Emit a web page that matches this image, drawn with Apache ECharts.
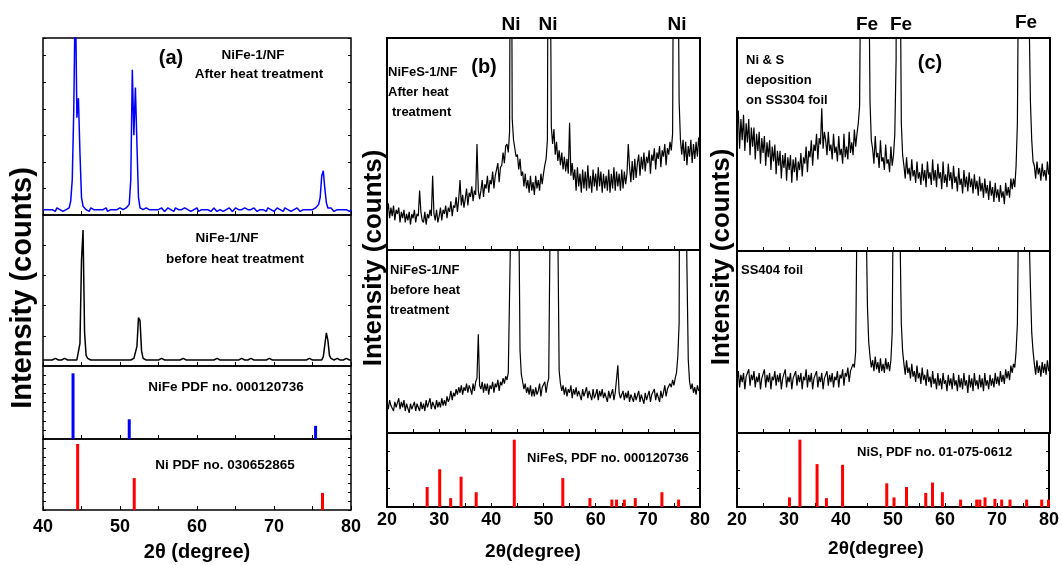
<!DOCTYPE html>
<html><head><meta charset="utf-8">
<script src="https://cdn.jsdelivr.net/npm/echarts@6/dist/echarts.min.js"></script>
<style>html,body{margin:0;padding:0;background:#fff}#c{width:1062px;height:565px}</style>
</head><body><div id="c"></div>
<script>
// ---------- Panel (a): 2theta 40..80, step 0.2 ----------
const A_START = 40, A_STEP = 0.2;
const aAfter = [
3,4,3,2,3,4,3,3,2,4,3,3,4,2,3,3,4,
4,8,20,60,130,55,66,35,10,5,
4,3,3,2,4,3,3,2,3,4,3,2,3,3,4,2,3,3,4,3,2,3,3,4,3,3,2,4,5,
6,20,82,45,72,40,10,4,
3,3,2,4,3,3,2,3,4,3,
2,3,3,4,3,2,3,4,3,3,
3,2,4,3,3,2,3,3,4,3,
3,4,2,3,3,3,4,2,3,3,
2,3,4,3,3,2,3,4,3,2,
3,3,4,2,3,3,3,4,3,2,
3,4,3,3,2,3,3,4,3,3,
2,3,3,4,3,2,3,3,4,3,
3,2,4,3,3,3,2,3,4,3,
3,3,2,4,3,3,4,2,3,3,
3,4,3,2,3,3,4,3,2,3,
4,3,3,4,5,
6,10,22,25,15,7,4,
3,4,3,2,3,3,4,3,2,3,4,3,3,2,3];
const aBefore = [
4,4,4,5,4,4,4,4,5,4,4,4,4,4,5,4,4,4,4,4,4,5,4,
5,15,70,90,22,7,5,
4,4,4,4,5,4,4,4,4,4,4,4,5,4,4,4,4,4,4,4,5,4,4,4,4,4,4,4,4,5,
6,13,32,30,10,5,
4,4,4,4,5,4,4,4,4,4,
4,5,4,4,4,4,4,4,5,4,
4,4,4,4,4,5,4,4,4,4,
4,4,5,4,4,4,4,4,4,4,
5,4,4,4,4,4,4,5,4,4,
4,4,4,4,5,4,4,4,4,4,
4,4,4,5,4,4,4,4,4,5,
4,4,4,4,4,4,5,4,4,4,
4,5,4,4,4,4,4,4,4,4,
4,4,4,4,5,4,4,4,4,4,
5,4,4,4,4,4,4,5,4,4,
4,4,4,4,5,4,
6,14,22,17,7,5,
4,4,4,5,4,4,4,4,4,5,4,4,4];
const aNiFePos = [43.9, 51.2, 75.4];
const aNiFeH   = [90, 27, 18];
const aNiPos   = [44.5, 51.85, 76.3];
const aNiH     = [93, 45, 24];

// ---------- Panels (b),(c): 2theta 20..80, step 0.25 ----------
const BC_START = 20, BC_STEP = 0.25;
const bAfter = [
18,22,15,20, 16,21,14,19, 17,20,13,18, 15,19,13,17, 14,18,12,17,
15,19,13,17, 16,28,18,14, 13,18,12,17, 15,19,16,35, 17,14,19,13,
16,20,14,19, 17,21,15,20, 18,23,16,21, 20,25,18,24, 33,21,26,20,
24,29,21,27, 25,30,23,28, 26,50,28,24, 28,33,25,31, 29,35,27,33,
31,37,29,35, 35,41,32,39, 40,46,41,49, 50,46,56,250, 62,52,48,44,
45,38,43,35, 37,30,36,29, 33,27,35,28, 32,26,35,29, 33,28,36,31,
36,40,43,52, 250,160,58,50, 57,45,51,42, 47,40,46,38, 44,37,43,36,
60,35,41,33, 38,28,39,30, 36,27,38,29, 37,28,40,29, 35,27,38,30,
36,28,39,30, 37,27,36,29, 35,28,38,27, 36,29,39,28, 37,30,36,28,
38,29,37,31, 36,50,39,32, 42,33,43,34, 41,45,35,44, 38,46,37,44,
41,47,36,45, 42,48,38,46, 43,49,39,47, 44,50,40,48, 45,51,47,55,
200,300,250,160, 70,52,45,52, 42,51,40,49, 44,52,41,50, 43,51,44,53,
47];
const bBefore = [
17,13,18,15, 16,12,17,14, 15,19,13,17, 14,18,12,16, 15,11,16,13,
14,17,12,16, 15,12,17,13, 16,12,18,14, 15,19,13,17, 16,13,18,14,
17,14,19,15, 18,15,20,17, 19,23,18,22, 20,24,21,25, 22,26,21,25,
23,27,22,26, 24,21,27,23, 28,30,54,26, 24,28,22,27, 23,27,21,26,
24,28,22,27, 25,29,23,28, 26,30,27,31, 29,33,32,120, 400,800,800,500,
300,130,45,32, 28,24,27,22, 25,21,26,20, 24,20,25,21, 23,27,20,25,
24,28,22,27, 30,110,500,700, 500,300,180,110, 34,27,23,26, 21,25,20,24,
22,26,19,24, 21,25,20,23, 22,18,24,20, 21,25,19,23, 22,18,24,19,
21,24,18,23, 20,24,19,22, 21,17,23,19, 20,24,18,22, 21,37,22,19,
20,23,18,22, 19,23,17,21, 20,17,22,18, 19,23,17,21, 20,16,22,18,
19,23,17,21, 20,24,18,22, 21,17,23,19, 22,26,20,24, 23,27,25,29,
26,30,33,42, 60,300,800,600, 300,150,90,40, 28,24,27,22, 25,21,26,23,
24];
const bPdfPos = [27.7, 30.1, 32.2, 34.2, 37.1, 44.4, 53.7, 58.9, 63.1, 64.0, 65.5, 67.6, 72.7, 75.9];
const bPdfH   = [27, 51, 12, 41, 20, 91, 39, 12, 10, 10, 10, 12, 20, 10];

const cNiS = [
57,66,48,62, 52,64,47,60, 51,62,45,58, 49,58,43,55, 47,56,41,53,
46,54,40,51, 44,52,38,49, 42,50,36,47, 40,47,34,45, 39,46,33,44,
38,45,32,43, 37,44,33,42, 38,46,35,44, 41,49,37,47, 44,52,40,50,
47,55,43,53, 50,67,48,56, 52,45,56,47, 50,43,55,46, 49,42,54,45,
48,41,55,44, 49,43,56,46, 51,45,57,49, 55,60,68,150, 500,900,900,700,
400,140,70,52, 48,41,54,44, 46,39,52,42, 44,38,50,41, 43,37,49,40,
45,55,90,600, 800,150,60,45, 40,34,44,36, 39,33,43,35, 38,32,42,34,
37,31,41,33, 38,30,42,34, 37,31,43,33, 38,30,41,34, 37,29,42,32,
36,30,41,33, 37,29,40,32, 35,28,39,31, 34,27,38,30, 35,28,37,30,
34,27,36,29, 33,26,35,28, 32,25,34,27, 31,24,33,26, 30,23,32,25,
29,23,31,25, 28,22,32,26, 30,25,34,29, 34,30,40,60, 150,500,900,900,
600,400,250,150, 110,70,52,42, 40,34,42,36, 39,33,41,35, 38,33,42,36,
37];
const cFoil = [
29,34,25,32, 28,33,24,31, 30,35,26,32, 29,34,25,31, 28,33,24,30,
29,35,25,32, 28,33,24,31, 29,34,26,32, 28,33,24,30, 29,35,25,31,
28,33,24,30, 29,34,26,32, 28,33,24,31, 29,35,25,32, 28,33,24,30,
29,34,25,31, 28,33,24,30, 29,34,26,32, 28,33,25,31, 29,34,25,32,
30,35,26,33, 31,36,28,34, 33,38,36,45, 120,500,900,900, 600,350,200,120,
70,50,42,36, 40,34,42,35, 39,33,41,34, 38,33,41,35, 39,34,40,55,
150,700,900,500, 200,110,60,45, 38,32,40,33, 36,30,38,31, 34,28,37,30,
33,27,36,29, 32,26,35,28, 31,25,34,27, 30,24,33,26, 30,24,33,27,
29,23,32,26, 30,24,33,26, 29,23,32,25, 30,24,33,26, 29,22,32,25,
30,23,33,26, 29,24,32,25, 30,23,33,26, 29,24,32,26, 30,25,33,27,
31,26,34,28, 32,27,35,30, 34,29,37,33, 38,36,45,60, 130,500,900,900,
700,400,250,150, 110,80,55,45, 38,32,40,33, 37,31,39,33, 38,32,40,34,
36];
const cPdfPos = [30.1, 32.1, 35.4, 37.2, 40.3, 48.8, 50.2, 52.6, 56.3, 57.6, 59.5, 63.0, 66.1, 66.7, 67.7, 69.6, 70.9, 72.5, 75.7, 78.6, 79.9];
const cPdfH   = [13, 91, 58, 12, 57, 32, 13, 27, 19, 33, 20, 10, 10, 10, 13, 11, 10, 10, 10, 10, 10];

const checks = {aAfter:[aAfter,201], aBefore:[aBefore,201], bAfter:[bAfter,241], bBefore:[bBefore,241], cNiS:[cNiS,241], cFoil:[cFoil,241]};
for (const k in checks) if (checks[k][0].length !== checks[k][1]) throw new Error(k + ' length ' + checks[k][0].length);

// ---------- layout ----------
const grids = [
  {left:43,  top:38,  width:308, height:177},
  {left:43,  top:215, width:308, height:151},
  {left:43,  top:366, width:308, height:73},
  {left:43,  top:439, width:308, height:71},
  {left:387, top:38,  width:313, height:212},
  {left:387, top:250, width:313, height:183},
  {left:387, top:433, width:313, height:74},
  {left:737, top:38,  width:313, height:213},
  {left:737, top:251, width:313, height:182},
  {left:737, top:433, width:313, height:74}
];
const xMin = [40,40,40,40,20,20,20,20,20,20];
const bottomGrid = [false,false,false,true,false,false,true,false,false,true];
const yInt = [15,20,12.5,12.5,20,20,25,20,20,25];
const yTicks = [true,true,true,true,false,false,true,false,false,true];
const bw = i => (i < 4 ? 1.5 : 2);

const FONT = '"Liberation Sans", Arial, sans-serif';
const option = {
  animation:false,
  backgroundColor:'#fff',
  grid: grids.map((g,i)=>Object.assign({show:true, borderColor:'#000', borderWidth:bw(i), backgroundColor:'transparent', containLabel:false}, g)),
  xAxis: grids.map((g,i)=>({
    gridIndex:i, type:'value', min:xMin[i], max:80, interval:5,
    axisLine:{show:false},
    axisTick:{show:true, inside:true, length:4, lineStyle:{color:'#000', width:1}},
    axisLabel:{show:bottomGrid[i], margin:i<4?8:4, color:'#000', fontSize:18, fontWeight:'bold', fontFamily:FONT,
      formatter:v=> (v % 10 === 0 ? String(v) : '')},
    splitLine:{show:false}
  })),
  yAxis: grids.map((g,i)=>({
    gridIndex:i, type:'value', min:0, max:100, interval:yInt[i], position:'left',
    axisLine:{show:false},
    axisTick:{show:yTicks[i], inside:true, length:3, lineStyle:{color:'#000', width:1}},
    axisLabel:{show:false}, splitLine:{show:false}
  })).concat(grids.map((g,i)=>({
    gridIndex:i, type:'value', min:0, max:100, interval:yInt[i], position:'right',
    axisLine:{show:false},
    axisTick:{show:yTicks[i], inside:true, length:3, lineStyle:{color:'#000', width:1}},
    axisLabel:{show:false}, splitLine:{show:false}
  }))),
  series: []
};
const pairs = (arr, start, step) => arr.map((v,i)=>[+(start + i*step).toFixed(2), v]);
const lineS = (gi, data, color, w) => ({type:'line', xAxisIndex:gi, yAxisIndex:gi, data, showSymbol:false, symbol:'none',
  clip:true, lineStyle:{color, width:w}, silent:true});
const barS = (gi, pos, h, color) => ({type:'bar', xAxisIndex:gi, yAxisIndex:gi, data:pos.map((p,i)=>[p,h[i]]),
  barWidth:3, itemStyle:{color}, silent:true});
option.series.push(
  lineS(0, pairs(aAfter, A_START, A_STEP), '#0000ff', 1.5),
  lineS(1, pairs(aBefore, A_START, A_STEP), '#000', 1.5),
  barS(2, aNiFePos, aNiFeH, '#0000ff'),
  barS(3, aNiPos, aNiH, '#ff0000'),
  lineS(4, pairs(bAfter, BC_START, BC_STEP), '#000', 1.2),
  lineS(5, pairs(bBefore, BC_START, BC_STEP), '#000', 1.2),
  barS(6, bPdfPos, bPdfH, '#ff0000'),
  lineS(7, pairs(cNiS, BC_START, BC_STEP), '#000', 1.2),
  lineS(8, pairs(cFoil, BC_START, BC_STEP), '#000', 1.2),
  barS(9, cPdfPos, cPdfH, '#ff0000')
);

const T = (text, x, y, size, opts={}) => ({type:'text', x, y, rotation:opts.rot||0, silent:true, z:100,
  style:{text, fill:'#000', font:(opts.w||'bold') + ' ' + size + 'px ' + FONT,
    align:opts.align||'center', verticalAlign:'middle'}});
option.graphic = [
  // panel a
  T('(a)', 171, 58, 20),
  T('NiFe-1/NF', 253, 55, 13.5),
  T('After heat treatment', 259, 74, 13.5),
  T('NiFe-1/NF', 227, 238, 13.5),
  T('before heat treatment', 235, 259, 13.5),
  T('NiFe PDF no. 000120736', 226, 387, 13.5),
  T('Ni PDF no. 030652865', 225, 465, 13.5),
  T('Intensity (counts)', 23, 288, 29, {rot:Math.PI/2}),
  T('2θ (degree)', 197, 552, 20),
  // panel b
  T('Ni', 511, 25, 19), T('Ni', 548, 25, 19), T('Ni', 677, 25, 19),
  T('(b)', 484, 67, 20),
  T('NiFeS-1/NF', 388, 72, 13, {align:'left'}),
  T('After heat', 388, 92, 13, {align:'left'}),
  T('treatment', 392, 112, 13, {align:'left'}),
  T('NiFeS-1/NF', 390, 270, 13, {align:'left'}),
  T('before heat', 390, 290, 13, {align:'left'}),
  T('treatment', 390, 310, 13, {align:'left'}),
  T('NiFeS, PDF no. 000120736', 527, 458, 13, {align:'left'}),
  T('Intensity (counts)', 374, 258, 26, {rot:Math.PI/2}),
  T('2θ(degree)', 533, 552, 19),
  // panel c
  T('Fe', 867, 25, 19), T('Fe', 901, 25, 19), T('Fe', 1026, 23, 19),
  T('(c)', 930, 63, 20),
  T('Ni & S', 746, 60, 13, {align:'left'}),
  T('deposition', 746, 80, 13, {align:'left'}),
  T('on SS304 foil', 746, 100, 13, {align:'left'}),
  T('SS404 foil', 741, 270, 13, {align:'left'}),
  T('NiS, PDF no. 01-075-0612', 857, 452, 13, {align:'left'}),
  T('Intensity (counts)', 722, 257, 26, {rot:Math.PI/2}),
  T('2θ(degree)', 876, 549, 19)
];
const chart = echarts.init(document.getElementById('c'), null, {renderer:'canvas'});
chart.setOption(option);
</script>
</body></html>
